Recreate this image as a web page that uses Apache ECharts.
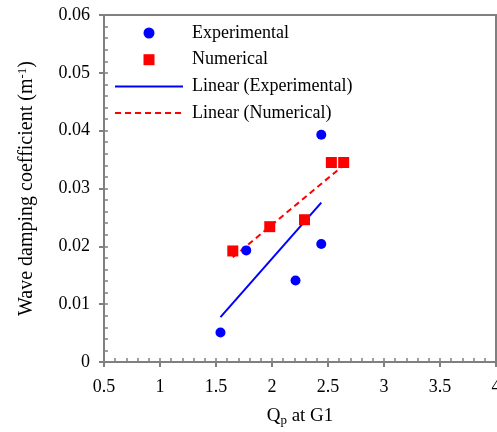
<!DOCTYPE html>
<html>
<head>
<meta charset="utf-8">
<script src="https://cdn.jsdelivr.net/npm/echarts@6/dist/echarts.min.js"></script>
<style>
  html, body { margin: 0; padding: 0; background: #fff; }
  #chart { width: 497px; height: 432px; }
</style>
</head>
<body>
<div id="chart"></div>
<script>
// Measured Qp at gauge G1 and wave damping coefficients
const expQp = [1.54, 1.77, 2.21, 2.44, 2.44];
const expDamping = [0.0051, 0.0193, 0.0141, 0.0204, 0.0393];
const numQp = [1.65, 1.98, 2.29, 2.53, 2.64];
const numDamping = [0.0192, 0.0234, 0.0246, 0.0345, 0.0345];

const xTicks = [0.5, 1, 1.5, 2, 2.5, 3, 3.5, 4];
const yTicks = [0, 0.01, 0.02, 0.03, 0.04, 0.05, 0.06];

// Least-squares fit, drawn across the data range
function linearFit(xs, ys) {
  const n = xs.length;
  const mx = xs.reduce((a, b) => a + b, 0) / n;
  const my = ys.reduce((a, b) => a + b, 0) / n;
  let sxx = 0, sxy = 0;
  for (let i = 0; i < n; i++) {
    sxx += (xs[i] - mx) * (xs[i] - mx);
    sxy += (xs[i] - mx) * (ys[i] - my);
  }
  const k = sxy / sxx;
  const b = my - k * mx;
  const x0 = Math.min(...xs), x1 = Math.max(...xs);
  return [[x0, k * x0 + b], [x1, k * x1 + b]];
}

const FONT = 'Liberation Serif';
const FS = 18;
const GREY = '#808080';

const chart = echarts.init(document.getElementById('chart'), null, { renderer: 'canvas' });

chart.setOption({
  animation: false,
  backgroundColor: '#fff',
  grid: {
    left: 104, right: 1, top: 15, bottom: 70,
    containLabel: false, outerBoundsMode: 'none',
    show: true, borderColor: GREY, borderWidth: 2, backgroundColor: 'transparent'
  },
  legend: {
    orient: 'vertical',
    left: 114,
    top: 24,
    padding: 0,
    itemWidth: 68,
    itemHeight: 11,
    itemGap: 8.7,
    textStyle: { fontFamily: FONT, fontSize: FS, color: '#000', lineHeight: FS, padding: [0, 0, 0, 4] },
    data: [
      { name: 'Experimental', icon: 'circle' },
      { name: 'Numerical', icon: 'path://M0,0H10V10H0Z' },
      { name: 'Linear (Experimental)', itemStyle: { opacity: 0 } },
      { name: 'Linear (Numerical)', itemStyle: { opacity: 0 } }
    ]
  },
  xAxis: [{
    type: 'value',
    min: xTicks[0],
    max: xTicks[xTicks.length - 1],
    interval: 0.5,
    name: '{t|Q}{s|p}{t| at G1}',
    nameLocation: 'middle',
    nameGap: 44,
    nameTextStyle: {
      rich: {
        t: { fontFamily: FONT, fontSize: 19, color: '#000' },
        s: { fontFamily: FONT, fontSize: 13, color: '#000', verticalAlign: 'bottom', padding: [8, 0, 0, 0] }
      }
    },
    axisLine: { show: true, lineStyle: { color: GREY, width: 2 } },
    axisTick: { show: true, inside: false, length: 5, lineStyle: { color: GREY, width: 2 } },
    axisLabel: { fontFamily: FONT, fontSize: FS, color: '#000', margin: 16, formatter: v => String(v) },
    splitLine: { show: false }
  }, {
    type: 'value',
    min: xTicks[0],
    max: xTicks[xTicks.length - 1],
    interval: 0.1,
    position: 'bottom',
    axisLine: { show: false },
    axisTick: { show: true, inside: true, length: 4, lineStyle: { color: GREY, width: 1.5 } },
    axisLabel: { show: false },
    splitLine: { show: false }
  }],
  yAxis: [{
    type: 'value',
    min: yTicks[0],
    max: yTicks[yTicks.length - 1],
    interval: 0.01,
    name: '{t|Wave damping coefficient (m}{s|-1}{t|)}',
    nameLocation: 'middle',
    nameGap: 66,
    nameTextStyle: {
      rich: {
        t: { fontFamily: FONT, fontSize: 20, color: '#000' },
        s: { fontFamily: FONT, fontSize: 13, color: '#000', verticalAlign: 'top', padding: [0, 0, 9, 0] }
      }
    },
    axisLine: { show: true, lineStyle: { color: GREY, width: 2 } },
    axisTick: { show: true, inside: false, length: 5, lineStyle: { color: GREY, width: 2 } },
    axisLabel: { fontFamily: FONT, fontSize: FS, color: '#000', margin: 14, formatter: v => String(+v.toFixed(2)) },
    splitLine: { show: false }
  }, {
    type: 'value',
    min: yTicks[0],
    max: yTicks[yTicks.length - 1],
    interval: 0.002,
    position: 'left',
    axisLine: { show: false },
    axisTick: { show: true, inside: true, length: 4, lineStyle: { color: GREY, width: 1.5 } },
    axisLabel: { show: false },
    splitLine: { show: false }
  }],
  series: [
    {
      name: 'Linear (Experimental)',
      type: 'line',
      data: linearFit(expQp, expDamping),
      showSymbol: false,
      lineStyle: { color: '#0000ff', width: 2 },
      itemStyle: { color: '#0000ff' },
      z: 2
    },
    {
      name: 'Linear (Numerical)',
      type: 'line',
      data: linearFit(numQp, numDamping),
      showSymbol: false,
      lineStyle: { color: '#ff0000', width: 2, type: [6, 4] },
      itemStyle: { color: '#ff0000' },
      z: 2
    },
    {
      name: 'Experimental',
      type: 'scatter',
      data: expQp.map((x, i) => [x, expDamping[i]]),
      symbol: 'circle',
      symbolSize: 10,
      itemStyle: { color: '#0000ff', opacity: 1 },
      z: 4
    },
    {
      name: 'Numerical',
      type: 'scatter',
      data: numQp.map((x, i) => [x, numDamping[i]]),
      symbol: 'rect',
      symbolSize: 11,
      itemStyle: { color: '#ff0000', opacity: 1 },
      z: 3
    }
  ]
});
</script>
</body>
</html>
